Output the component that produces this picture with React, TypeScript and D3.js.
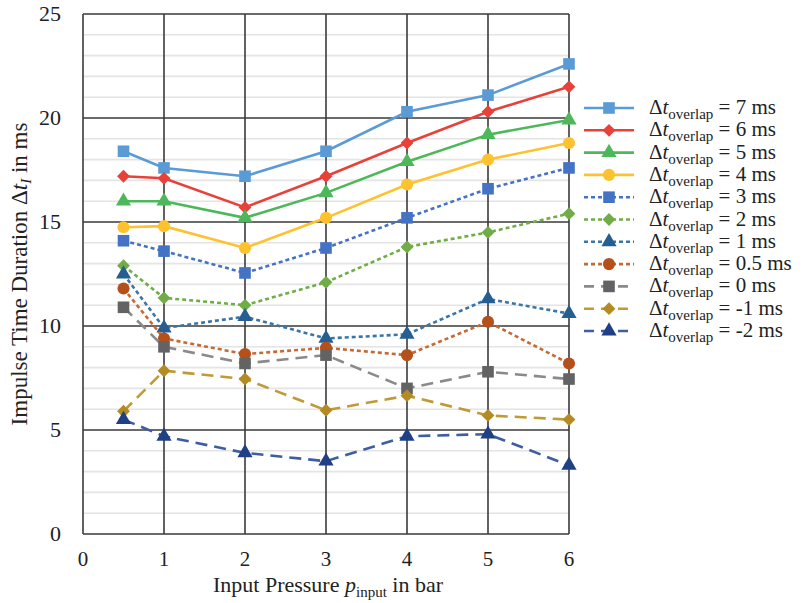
import React from "react";
import * as d3 from "d3";

const pressures = [0.5, 1, 2, 3, 4, 5, 6];
const overlapLabels = ["7", "6", "5", "4", "3", "2", "1", "0.5", "0", "-1", "-2"];
const s7 = [18.4, 17.6, 17.2, 18.4, 20.3, 21.1, 22.6];
const s6 = [17.2, 17.1, 15.7, 17.2, 18.8, 20.3, 21.5];
const s5 = [16.0, 16.0, 15.2, 16.4, 17.9, 19.2, 19.9];
const s4 = [14.75, 14.8, 13.75, 15.2, 16.8, 18.0, 18.8];
const s3 = [14.1, 13.6, 12.55, 13.75, 15.2, 16.6, 17.6];
const s2 = [12.9, 11.35, 11.0, 12.1, 13.8, 14.5, 15.4];
const s1 = [12.5, 9.9, 10.45, 9.4, 9.6, 11.3, 10.6];
const s05 = [11.8, 9.4, 8.65, 8.95, 8.6, 10.2, 8.2];
const s0 = [10.9, 9.0, 8.2, 8.6, 7.0, 7.8, 7.45];
const sm1 = [5.9, 7.85, 7.45, 5.95, 6.65, 5.7, 5.5];
const sm2 = [5.5, 4.7, 3.9, 3.5, 4.7, 4.8, 3.3];
const seriesValues = [s7, s6, s5, s4, s3, s2, s1, s05, s0, sm1, sm2];

const xTicks = [0, 1, 2, 3, 4, 5, 6];
const yTicks = [0, 5, 10, 15, 20, 25];

type Style = { color: string; lineColor?: string; marker: string; dash: string };
const styles: Style[] = [
  { color: "#5B9BD5", marker: "square", dash: "" },
  { color: "#E8413A", marker: "diamond", dash: "" },
  { color: "#4DB85A", marker: "triangle", dash: "" },
  { color: "#FDC22E", marker: "circle", dash: "" },
  { color: "#4472C4", marker: "square", dash: "4 3" },
  { color: "#70AD47", marker: "diamond", dash: "4 3" },
  { color: "#255E91", lineColor: "#3A75A8", marker: "triangle", dash: "4 3" },
  { color: "#B5501B", lineColor: "#C56A35", marker: "circle", dash: "4 3" },
  { color: "#636363", lineColor: "#8A8A8A", marker: "square", dash: "12 7" },
  { color: "#B38B22", lineColor: "#BF9A35", marker: "diamond", dash: "12 7" },
  { color: "#1F3F86", lineColor: "#3D5E9F", marker: "triangle", dash: "12 7" },
];

const W = 805;
const H = 603;
const x = d3.scaleLinear().domain([0, 6]).range([83, 569]);
const y = d3.scaleLinear().domain([0, 25]).range([534, 14]);
const FONT = "Liberation Serif, Times New Roman, Tinos, DejaVu Serif, serif";

function Marker({ kind, cx, cy, color }: { kind: string; cx: number; cy: number; color: string }) {
  const sym =
    kind === "square" ? d3.symbolSquare : kind === "diamond" ? d3.symbolDiamond2 : kind === "triangle" ? d3.symbolTriangle : d3.symbolCircle;
  const size = kind === "square" ? 135 : kind === "diamond" ? 105 : kind === "triangle" ? 100 : 115;
  const p = d3.symbol().type(sym).size(size)();
  return <path d={p || ""} transform={`translate(${cx},${cy})`} fill={color} />;
}

export default function App() {
  const line = d3
    .line<number>()
    .x((_, i) => x(pressures[i]))
    .y((d) => y(d));
  const minor = d3.range(1, 25).filter((v) => v % 5 !== 0);
  const legendY0 = 108;
  const legendStep = 22.3;
  return (
    <svg width={W} height={H} style={{ position: "absolute", left: 0, top: 0, background: "#fff" }}>
      <rect width={W} height={H} fill="#fff" />
      {minor.map((v) => (
        <line key={"m" + v} x1={x(0)} x2={x(6)} y1={y(v)} y2={y(v)} stroke="#e4e4e4" strokeWidth={1.6} />
      ))}
      {yTicks.map((v) => (
        <line key={"gy" + v} x1={x(0)} x2={x(6)} y1={y(v)} y2={y(v)} stroke="#3a3a3a" strokeWidth={1.6} />
      ))}
      {xTicks.map((v) => (
        <line key={"gx" + v} x1={x(v)} x2={x(v)} y1={y(0)} y2={y(25)} stroke="#3a3a3a" strokeWidth={1.6} />
      ))}
      {seriesValues.map((vals, si) => {
        const st = styles[si];
        return (
          <g key={"s" + si}>
            <path d={line(vals) || ""} fill="none" stroke={st.lineColor || st.color} strokeWidth={2.6} strokeDasharray={st.dash} />
            {vals.map((v, i) => (
              <Marker key={i} kind={st.marker} cx={x(pressures[i])} cy={y(v)} color={st.color} />
            ))}
          </g>
        );
      })}
      <g fontFamily={FONT} fill="#222">
        {yTicks.map((v) => (
          <text key={"ty" + v} x={61} y={y(v) + 7} textAnchor="end" fontSize={22}>
            {v}
          </text>
        ))}
        {xTicks.map((v) => (
          <text key={"tx" + v} x={x(v)} y={566} textAnchor="middle" fontSize={21}>
            {v}
          </text>
        ))}
        <text x={328} y={592} textAnchor="middle" fontSize={22}>
          Input Pressure <tspan fontStyle="italic">p</tspan>
          <tspan fontSize={15} dy={5}>input</tspan>
          <tspan dy={-5}> in bar</tspan>
        </text>
        <text transform={`translate(27,274) rotate(-90)`} textAnchor="middle" fontSize={23}>
          Impulse Time Duration Δ<tspan fontStyle="italic">t</tspan>
          <tspan fontStyle="italic" fontSize={15} dy={4}>I</tspan>
          <tspan dy={-4}> in ms</tspan>
        </text>
      </g>
      {overlapLabels.map((lab, i) => {
        const st = styles[i];
        const ly = legendY0 + i * legendStep;
        return (
          <g key={"l" + i}>
            <line x1={584} x2={634} y1={ly} y2={ly} stroke={st.lineColor || st.color} strokeWidth={2.6} strokeDasharray={st.dash ? (st.dash === "4 3" ? "4 3" : "10 7") : ""} />
            <Marker kind={st.marker} cx={609} cy={ly} color={st.color} />
            <text x={649} y={ly + 6} fontSize={21} fill="#222" fontFamily={FONT}>
              Δ<tspan fontStyle="italic">t</tspan>
              <tspan fontSize={15} dy={5}>overlap</tspan>
              <tspan dy={-5}> = {lab} ms</tspan>
            </text>
          </g>
        );
      })}
    </svg>
  );
}
